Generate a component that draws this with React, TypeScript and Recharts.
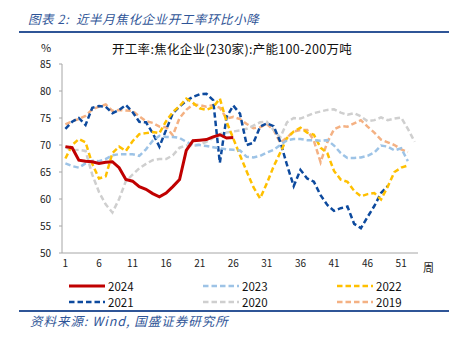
import React from "react";
import { LineChart, Line, XAxis, YAxis } from "recharts";

const weeks = [
  1, 2, 3, 4, 5, 6, 7, 8, 9, 10, 11, 12, 13, 14, 15, 16, 17, 18, 19, 20,
  21, 22, 23, 24, 25, 26, 27, 28, 29, 30, 31, 32, 33, 34, 35, 36, 37, 38, 39, 40,
  41, 42, 43, 44, 45, 46, 47, 48, 49, 50, 51, 52, 53,
];
const xTicks = [1, 6, 11, 16, 21, 26, 31, 36, 41, 46, 51];
const yTicks = [50, 55, 60, 65, 70, 75, 80, 85];

const y2024 = [
  69.7, 69.5, 67.2, 67.0, 66.9, 66.6, 66.8, 66.9, 65.8, 63.6,
  63.3, 62.3, 61.8, 61.0, 60.4, 61.1, 62.3, 63.6, 69.0, 70.8,
  70.9, 71.0, 71.5, 71.9, 71.3, 71.4,
];
const y2023 = [
  66.6, 66.1, 65.8, 66.6, 67.1, 67.0, 67.4, 68.1, 68.3, 68.3,
  68.3, 68.0, 69.2, 70.8, 71.7, 71.5, 71.5, 71.3, 70.6, 70.0,
  70.0, 69.8, 69.6, 69.4, 69.2, 69.1, 69.0, 67.8, 67.7, 68.0,
  68.6, 69.1, 70.0, 70.9, 71.1, 71.1, 70.9, 70.9, 70.8, 70.9,
  69.9, 68.5, 67.6, 67.6, 67.7, 68.0, 68.6, 69.9, 69.7, 69.0,
  69.4, 67.0,
];
const y2022 = [
  67.5, 70.0, 71.1, 70.5, 66.5, 63.8, 64.2, 68.5, 69.7, 68.9,
  70.7, 72.0, 72.2, 72.4, 72.2, 74.4, 76.1, 77.2, 78.6, 77.8,
  76.8, 76.5, 77.0, 78.6, 74.3, 71.2, 68.1, 65.1, 62.2, 60.1,
  62.9, 66.0, 68.6, 71.3, 72.5, 73.2, 72.3, 71.9, 69.5, 68.5,
  65.2, 63.6, 63.2, 61.5, 60.5, 60.9, 61.1, 59.9, 62.3, 65.0,
  65.8, 66.2,
];
const y2021 = [
  73.0, 74.3, 75.0, 73.7, 76.9, 77.2, 77.1, 75.9, 76.5, 77.4,
  76.1, 74.3, 74.2, 72.2, 69.7, 72.8, 75.9, 77.1, 78.2, 78.9,
  79.4, 79.5, 78.3, 66.7, 75.2, 77.3, 75.8, 70.0, 70.4, 73.4,
  74.0, 73.5, 70.6, 66.3, 62.4, 65.4, 63.8, 63.2, 60.7, 58.9,
  57.8, 58.3, 58.6, 55.4, 54.6, 56.7, 58.7, 61.1, 62.4,
];
const y2020 = [
  69.6, 69.0, 69.1, 68.9, 64.5, 61.3, 59.0, 57.5, 60.0, 63.3,
  64.5, 65.7, 66.5, 67.2, 67.4, 67.4, 68.1, 69.5, 69.9, 69.8,
  70.1, 70.6, 71.3, 72.0, 72.3, 72.5, 72.7, 73.0, 73.6, 74.2,
  74.3, 72.8, 71.4, 74.2, 75.0, 74.9, 75.4, 75.9, 76.2, 76.5,
  76.6, 76.0, 75.6, 75.9, 75.3, 74.4, 74.6, 75.1, 74.6, 74.9,
  75.1, 73.0, 70.6,
];
const y2019 = [
  73.8, 74.4, 74.8, 75.4, 76.6, 77.1, 77.5, 76.3, 76.5, 76.4,
  76.3, 75.3, 74.4, 74.1, 73.4, 73.3, 71.8, 75.0, 76.5, 77.5,
  77.4, 77.1, 77.4, 76.9, 74.9, 75.2, 74.8, 73.9, 73.1, 73.3,
  73.9, 72.8, 70.4, 71.4, 72.5, 72.8, 72.8, 70.8, 66.8, 70.5,
  72.9, 73.5, 73.4, 74.0, 74.6, 73.4, 72.3, 71.0, 70.5, 70.0,
  69.2, 68.7,
];

const series = [
  { key: "2024", values: y2024, color: "#C00000", dash: "", width: 3 },
  { key: "2023", values: y2023, color: "#9DC3E6", dash: "5.5 3", width: 2.5 },
  { key: "2022", values: y2022, color: "#FFC000", dash: "5.5 3", width: 2.5 },
  { key: "2021", values: y2021, color: "#0D4A9E", dash: "5.5 3", width: 2.5 },
  { key: "2020", values: y2020, color: "#CFCFCF", dash: "5.5 3", width: 2.5 },
  { key: "2019", values: y2019, color: "#F4B183", dash: "5.5 3", width: 2.5 },
];

const data = weeks.map((w, i) => {
  const row: Record<string, number | null> = { week: w };
  series.forEach((s) => {
    row[s.key] = i < s.values.length ? s.values[i] : null;
  });
  return row;
});

const font = "'Noto Sans CJK SC', 'Noto Sans', sans-serif";
const blue = "#2F5597";

export default function App() {
  const drawOrder = [...series].reverse();
  return (
    <div style={{ position: "absolute", left: 0, top: 0, width: 449, height: 337, background: "#fff", fontFamily: font }}>
      <div style={{ position: "absolute", left: 28, top: 9, fontSize: 12.5, fontStyle: "italic", color: blue, whiteSpace: "nowrap", letterSpacing: 0.6 }}>
        图表 2:&nbsp; 近半月焦化企业开工率环比小降
      </div>
      <div style={{ position: "absolute", left: 19, top: 31, width: 430, height: 2, background: blue }} />
      <div style={{ position: "absolute", left: 41, top: 39, fontSize: 11, color: "#222" }}>%</div>
      <div style={{ position: "absolute", left: 112, top: 39, fontSize: 12.5, color: "#111", whiteSpace: "nowrap", letterSpacing: 0.3 }}>
        开工率:焦化企业(230家):产能100-200万吨
      </div>

      <LineChart width={449} height={337} data={data} margin={{ top: 64, right: 31, bottom: 54, left: 22 }} style={{ position: "absolute", left: 0, top: 0 }}>
        <XAxis
          dataKey="week"
          ticks={xTicks}
          interval={0}
          padding={{ left: 3.4, right: 3.4 }}
          height={30}
          tickLine={false}
          tickSize={5}
          axisLine={{ stroke: "#A6A6A6" }}
          tick={{ fontSize: 10, fill: "#222", fontFamily: font }}
          label={{ value: "周", position: "right", offset: 5, fontSize: 11, fill: "#222", fontFamily: font }}
        />
        <YAxis
          domain={[50, 85]}
          ticks={yTicks}
          width={40}
          tickSize={3}
          tickMargin={8}
          axisLine={{ stroke: "#A6A6A6" }}
          tickLine={{ stroke: "#A6A6A6" }}
          tick={{ fontSize: 10, fill: "#222", fontFamily: font }}
        />
        {drawOrder.map((s) => (
          <Line
            key={s.key}
            type="linear"
            dataKey={s.key}
            stroke={s.color}
            strokeWidth={s.width}
            strokeDasharray={s.dash || undefined}
            dot={false}
            activeDot={false}
            isAnimationActive={false}
          />
        ))}
      </LineChart>

      {series.map((s, i) => {
        const col = i % 3;
        const row = Math.floor(i / 3);
        const lx = [69, 203, 337][col];
        const ly = [286, 302][row];
        return (
          <div key={s.key} style={{ position: "absolute", left: lx, top: ly - 8, height: 16, display: "flex", alignItems: "center" }}>
            <svg width={36} height={6}>
              <line x1={0} y1={3} x2={36} y2={3} stroke={s.color} strokeWidth={s.width} strokeDasharray={s.dash || undefined} />
            </svg>
            <span style={{ marginLeft: 3, fontSize: 11.5, color: "#111" }}>{s.key}</span>
          </div>
        );
      })}

      <div style={{ position: "absolute", left: 19, top: 310, width: 430, height: 2, background: blue }} />
      <div style={{ position: "absolute", left: 30, top: 311, fontSize: 12.5, fontStyle: "italic", color: blue, whiteSpace: "nowrap", letterSpacing: 1 }}>
        资料来源: Wind, 国盛证券研究所
      </div>
    </div>
  );
}
